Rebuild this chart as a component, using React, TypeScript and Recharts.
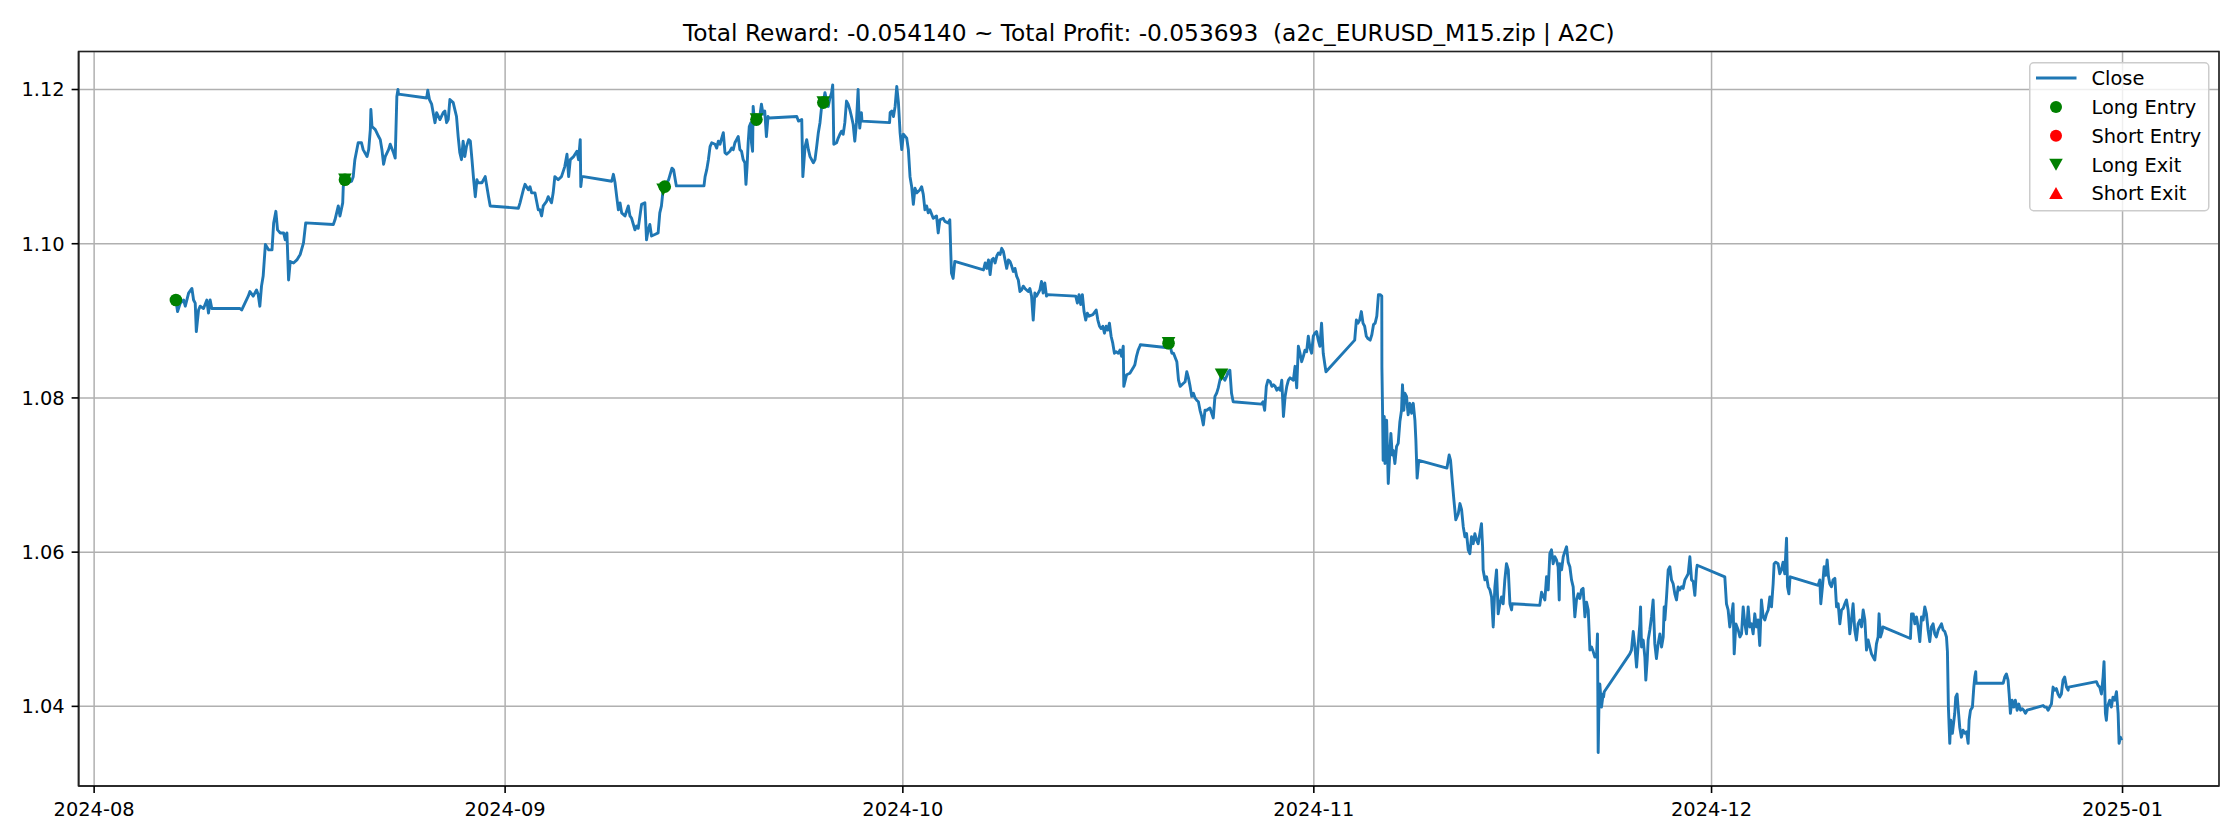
import React from 'react';
import {
  ComposedChart,
  Line,
  Scatter,
  XAxis,
  YAxis,
  CartesianGrid,
  ReferenceArea,
  Legend,
} from 'recharts';

// ---------- DATA ----------
const TITLE = 'Total Reward: -0.054140 ~ Total Profit: -0.053693  (a2c_EURUSD_M15.zip | A2C)';

const closeTimes: string[] = [
  '08-07 04:00','08-07 07:00','08-07 12:00','08-07 18:00','08-07 21:00','08-08 03:00','08-08 09:00','08-08 12:00','08-08 15:00','08-08 17:00',
  '08-08 21:00','08-09 00:00','08-09 06:00','08-09 12:00','08-09 15:00','08-09 18:00','08-09 21:00','08-12 00:00','08-12 03:00','08-12 09:00',
  '08-12 15:00','08-12 18:00','08-13 00:00','08-13 06:00','08-13 09:00','08-13 12:00','08-13 15:00','08-13 18:00','08-13 22:00','08-14 04:00',
  '08-14 10:00','08-14 13:00','08-14 17:00','08-14 20:00','08-15 01:00','08-15 07:00','08-15 10:00','08-15 13:00','08-15 16:00','08-15 19:00',
  '08-16 01:00','08-16 07:00','08-16 13:00','08-16 19:00','08-16 23:00','08-19 01:00','08-19 04:00','08-19 07:00','08-19 10:00','08-19 13:00',
  '08-19 18:00','08-19 19:00','08-19 22:00','08-20 04:00','08-20 10:00','08-20 13:00','08-20 16:00','08-20 22:00','08-21 04:00','08-21 07:00',
  '08-21 14:00','08-21 17:00','08-21 20:00','08-21 21:00','08-21 23:00','08-22 05:00','08-22 11:00','08-22 14:00','08-22 17:00','08-22 20:00',
  '08-22 23:00','08-23 05:00','08-23 08:00','08-23 14:00','08-23 17:00','08-23 20:00','08-23 22:00','08-23 23:00','08-26 02:00','08-26 04:00',
  '08-26 07:00','08-26 11:00','08-26 17:00','08-26 20:00','08-27 02:00','08-27 08:00','08-27 11:00','08-27 14:00','08-27 17:00','08-27 20:00',
  '08-27 23:00','08-28 02:00','08-28 05:00','08-28 08:00','08-28 11:00','08-28 14:00','08-28 17:00','08-28 20:00','08-28 23:00','08-29 02:00',
  '08-29 06:00','08-29 09:00','08-29 12:00','08-29 15:00','08-29 18:00','08-29 21:00','08-29 23:00','08-30 06:00','08-30 12:00','08-30 15:00',
  '08-30 18:00','08-30 21:00','09-02 00:00','09-02 03:00','09-02 09:00','09-02 12:00','09-02 18:00','09-02 21:00','09-03 00:00','09-03 06:00',
  '09-03 12:00','09-03 15:00','09-03 18:00','09-03 21:00','09-04 03:00','09-04 06:00','09-04 12:00','09-04 15:00','09-04 18:00','09-05 00:00',
  '09-05 06:00','09-05 12:00','09-05 16:00','09-05 19:00','09-05 22:00','09-06 04:00','09-06 10:00','09-06 13:00','09-06 16:00','09-06 17:00',
  '09-06 19:00','09-06 22:00','09-09 01:00','09-09 04:00','09-09 07:00','09-09 10:00','09-09 13:00','09-09 16:00','09-09 19:00','09-10 01:00',
  '09-10 07:00','09-10 10:00','09-10 13:00','09-10 19:00','09-10 22:00','09-11 01:00','09-11 07:00','09-11 13:00','09-11 16:00','09-11 19:00',
  '09-11 22:00','09-12 01:00','09-12 07:00','09-12 13:00','09-12 16:00','09-12 19:00','09-12 22:00','09-13 01:00','09-13 08:00','09-13 14:00',
  '09-13 17:00','09-13 20:00','09-13 22:00','09-16 00:00','09-16 02:00','09-16 05:00','09-16 08:00','09-16 11:00','09-16 14:00','09-16 20:00',
  '09-16 23:00','09-17 02:00','09-17 05:00','09-17 11:00','09-17 14:00','09-17 17:00','09-17 23:00','09-18 02:00','09-18 05:00','09-18 08:00',
  '09-18 11:00','09-18 14:00','09-18 17:00','09-18 20:00','09-18 23:00','09-19 02:00','09-19 04:00','09-19 06:00','09-19 08:00','09-19 10:00',
  '09-19 13:00','09-19 14:00','09-19 16:00','09-19 17:00','09-19 20:00','09-19 23:00','09-20 05:00','09-20 08:00','09-20 11:00','09-20 14:00',
  '09-20 17:00','09-20 20:00','09-20 22:00','09-23 00:00','09-23 03:00','09-23 09:00','09-23 11:00','09-23 15:00','09-23 18:00','09-23 21:00',
  '09-24 00:00','09-24 06:00','09-24 09:00','09-24 12:00','09-24 15:00','09-24 18:00','09-24 21:00','09-25 00:00','09-25 03:00','09-25 06:00',
  '09-25 09:00','09-25 12:00','09-25 15:00','09-25 17:00','09-25 18:00','09-25 19:00','09-26 00:00','09-26 03:00','09-26 06:00','09-26 09:00',
  '09-26 12:00','09-26 15:00','09-26 18:00','09-26 21:00','09-27 00:00','09-27 03:00','09-27 06:00','09-27 09:00','09-27 12:00','09-27 15:00',
  '09-27 17:00','09-27 18:00','09-27 21:00','09-27 22:00','09-30 00:00','09-30 01:00','09-30 04:00','09-30 07:00','09-30 10:00','09-30 13:00',
  '09-30 16:00','09-30 19:00','09-30 22:00','10-01 01:00','10-01 07:00','10-01 10:00','10-01 13:00','10-01 16:00','10-01 19:00','10-01 22:00',
  '10-02 01:00','10-02 07:00','10-02 10:00','10-02 13:00','10-02 16:00','10-02 19:00','10-02 22:00','10-03 01:00','10-03 07:00','10-03 13:00',
  '10-03 16:00','10-03 19:00','10-04 01:00','10-04 04:00','10-04 10:00','10-04 13:00','10-04 15:00','10-04 16:00','10-04 19:00','10-04 22:00',
  '10-07 02:00','10-07 05:00','10-07 08:00','10-07 11:00','10-07 14:00','10-07 17:00','10-07 20:00','10-07 23:00','10-08 02:00','10-08 05:00',
  '10-08 08:00','10-08 11:00','10-08 14:00','10-08 17:00','10-08 20:00','10-08 23:00','10-09 02:00','10-09 05:00','10-09 08:00','10-09 11:00',
  '10-09 14:00','10-09 17:00','10-09 20:00','10-09 23:00','10-10 02:00','10-10 05:00','10-10 08:00','10-10 11:00','10-10 14:00','10-10 17:00',
  '10-10 20:00','10-10 23:00','10-11 02:00','10-11 05:00','10-11 08:00','10-11 11:00','10-11 14:00','10-11 17:00','10-11 20:00','10-11 22:00',
  '10-14 01:00','10-14 04:00','10-14 07:00','10-14 10:00','10-14 13:00','10-14 16:00','10-14 19:00','10-14 22:00','10-15 01:00','10-15 08:00',
  '10-15 14:00','10-15 17:00','10-15 20:00','10-15 23:00','10-16 02:00','10-16 05:00','10-16 08:00','10-16 11:00','10-16 14:00','10-16 17:00',
  '10-16 20:00','10-16 23:00','10-17 02:00','10-17 06:00','10-17 09:00','10-17 12:00','10-17 15:00','10-17 16:00','10-17 21:00','10-18 03:00',
  '10-18 09:00','10-18 12:00','10-18 15:00','10-18 18:00','10-18 21:00','10-18 22:00','10-21 00:00','10-21 01:00','10-21 04:00','10-21 07:00',
  '10-21 10:00','10-21 16:00','10-21 19:00','10-21 22:00','10-22 04:00','10-22 07:00','10-22 10:00','10-22 13:00','10-22 16:00','10-22 19:00',
  '10-22 22:00','10-23 01:00','10-23 04:00','10-23 07:00','10-23 10:00','10-23 13:00','10-23 16:00','10-23 19:00','10-23 22:00','10-24 04:00',
  '10-24 10:00','10-24 13:00','10-24 16:00','10-24 19:00','10-24 22:00','10-25 01:00','10-25 04:00','10-25 07:00','10-25 10:00','10-25 13:00',
  '10-25 16:00','10-25 19:00','10-25 22:00','10-28 01:00','10-28 04:00','10-28 07:00','10-28 10:00','10-28 13:00','10-28 17:00','10-28 20:00',
  '10-28 23:00','10-29 02:00','10-29 05:00','10-29 08:00','10-29 11:00','10-29 14:00','10-29 17:00','10-29 20:00','10-29 23:00','10-30 02:00',
  '10-30 05:00','10-30 11:00','10-30 14:00','10-30 17:00','10-30 20:00','10-30 23:00','10-31 02:00','10-31 05:00','10-31 08:00','10-31 11:00',
  '10-31 14:00','10-31 17:00','10-31 20:00','10-31 23:00','11-01 02:00','11-01 05:00','11-01 08:00','11-01 11:00','11-01 14:00','11-01 17:00',
  '11-01 20:00','11-01 22:00','11-04 02:00','11-04 05:00','11-04 08:00','11-04 11:00','11-04 14:00','11-04 17:00','11-04 20:00','11-04 23:00',
  '11-05 02:00','11-05 06:00','11-05 09:00','11-05 12:00','11-05 15:00','11-05 18:00','11-05 21:00','11-06 00:00','11-06 03:00','11-06 03:15',
  '11-06 04:30','11-06 05:30','11-06 07:30','11-06 08:45','11-06 11:45','11-06 14:45','11-06 17:45','11-06 19:30','11-06 22:00','11-06 23:45',
  '11-07 02:45','11-07 05:45','11-07 08:45','11-07 11:45','11-07 14:45','11-07 16:30','11-07 19:00','11-07 20:45','11-07 23:45','11-08 02:45',
  '11-08 06:00','11-08 09:00','11-08 12:00','11-08 15:00','11-08 16:45','11-08 19:00','11-08 22:00','11-11 01:00','11-11 05:00','11-11 07:30',
  '11-11 11:00','11-11 13:30','11-11 17:00','11-11 21:30','11-12 00:30','11-12 03:30','11-12 06:30','11-12 09:30','11-12 12:30','11-12 15:30',
  '11-12 18:30','11-12 21:30','11-13 00:30','11-13 03:30','11-13 06:30','11-13 09:30','11-13 12:30','11-13 15:30','11-13 17:30','11-13 18:30',
  '11-13 21:45','11-14 00:45','11-14 03:45','11-14 06:45','11-14 09:45','11-14 12:45','11-14 15:45','11-14 18:45','11-14 21:45','11-15 00:45',
  '11-15 03:45','11-15 06:45','11-15 09:45','11-15 12:45','11-15 16:00','11-15 19:00','11-15 22:00','11-15 23:00','11-18 01:00','11-18 04:15',
  '11-18 10:15','11-18 13:15','11-18 16:15','11-18 19:15','11-18 22:15','11-19 01:15','11-19 04:15','11-19 07:15','11-19 10:15','11-19 12:15',
  '11-19 13:15','11-19 16:30','11-19 19:30','11-19 22:30','11-20 01:30','11-20 04:30','11-20 07:30','11-20 10:30','11-20 13:30','11-20 16:30',
  '11-20 19:30','11-20 22:30','11-21 01:30','11-21 04:30','11-21 07:30','11-21 10:45','11-21 13:45','11-21 16:45','11-21 19:45','11-21 22:45',
  '11-22 01:45','11-22 04:45','11-22 07:45','11-22 09:30','11-22 10:45','11-22 12:30','11-22 13:45','11-22 16:45','11-22 19:45','11-22 20:30',
  '11-22 21:45','11-24 20:00','11-24 23:00','11-25 02:15','11-25 05:15','11-25 08:15','11-25 11:15','11-25 14:15','11-25 15:30','11-25 17:15',
  '11-25 20:15','11-25 23:15','11-26 01:00','11-26 03:30','11-26 05:15','11-26 08:15','11-26 11:15','11-26 14:15','11-26 17:15','11-26 20:15',
  '11-26 23:15','11-27 02:30','11-27 05:30','11-27 08:30','11-27 10:15','11-27 11:30','11-27 14:30','11-27 17:30','11-27 20:30','11-27 23:30',
  '11-28 02:30','11-28 05:30','11-28 08:30','11-28 11:30','11-28 14:30','11-28 17:30','11-28 20:30','11-28 23:45','11-29 02:45','11-29 05:45',
  '11-29 08:45','11-29 11:45','11-29 14:45','11-29 17:45','11-29 20:45','11-29 22:00','12-02 00:00','12-02 03:00','12-02 06:00','12-02 09:00',
  '12-02 12:00','12-02 15:00','12-02 17:00','12-02 20:00','12-03 00:15','12-03 03:15','12-03 06:15','12-03 09:15','12-03 12:15','12-03 15:15',
  '12-03 18:15','12-03 21:15','12-04 00:15','12-04 03:15','12-04 06:15','12-04 09:15','12-04 12:15','12-04 15:15','12-04 18:15','12-04 21:30',
  '12-05 00:30','12-05 03:30','12-05 06:30','12-05 09:30','12-05 12:30','12-05 15:30','12-05 17:15','12-05 20:15','12-06 00:30','12-06 03:30',
  '12-06 06:30','12-06 09:30','12-06 12:30','12-06 15:45','12-06 17:30','12-06 20:00','12-06 21:45','12-06 22:30','12-09 01:00','12-09 04:00',
  '12-09 05:45','12-09 08:45','12-09 11:45','12-09 14:45','12-09 17:15','12-09 19:45','12-09 22:00','12-10 01:00','12-10 04:00','12-10 07:15',
  '12-10 10:15','12-10 13:15','12-10 16:15','12-10 19:15','12-10 22:15','12-11 01:15','12-11 04:15','12-11 07:15','12-11 10:15','12-11 13:15',
  '12-11 16:15','12-11 19:15','12-11 22:15','12-12 01:15','12-12 04:30','12-12 07:30','12-12 10:30','12-12 13:30','12-12 16:30','12-12 19:30',
  '12-12 22:30','12-13 01:30','12-13 04:30','12-13 07:30','12-13 10:30','12-13 13:30','12-13 15:15','12-13 17:45','12-13 20:45','12-13 22:00',
  '12-16 00:00','12-16 02:00','12-16 05:00','12-16 08:00','12-16 11:00','12-16 14:00','12-16 17:00','12-16 20:00','12-16 23:00','12-17 02:00',
  '12-17 05:00','12-17 08:00','12-17 11:00','12-17 14:00','12-17 17:00','12-17 20:00','12-17 23:00','12-18 02:15','12-18 05:15','12-18 08:15',
  '12-18 11:15','12-18 14:15','12-18 17:15','12-18 19:00','12-18 20:45','12-18 23:15','12-19 01:00','12-19 04:00','12-19 08:15','12-19 10:00',
  '12-19 12:30','12-19 14:15','12-19 17:15','12-19 20:15','12-19 23:15','12-20 02:30','12-20 05:30','12-20 08:30','12-20 10:15','12-20 12:45',
  '12-20 16:15','12-20 18:45','12-20 20:30','12-20 22:15','12-20 23:00','12-23 00:00','12-23 02:45','12-23 05:45','12-23 08:45','12-23 10:45',
  '12-23 13:00','12-23 16:00','12-23 19:00','12-23 22:00','12-24 01:15','12-24 04:15','12-24 07:15','12-24 10:15','12-24 13:15','12-24 16:15',
  '12-24 19:15','12-26 00:15','12-26 03:15','12-26 06:15','12-26 09:15','12-26 12:15','12-26 15:15','12-26 18:15','12-26 21:15','12-27 00:15',
  '12-27 03:15','12-27 06:15','12-27 09:15','12-27 12:15','12-27 15:15','12-27 18:30','12-27 21:30','12-27 22:30','12-30 00:45','12-30 03:45',
  '12-30 06:45','12-30 09:45','12-30 12:45','12-30 14:30','12-30 17:00','12-30 18:45','12-30 20:30','12-31 00:45','12-31 03:45','12-31 06:45',
  '12-31 09:45','12-31 13:00','12-31 16:00','12-31 17:45','12-31 20:00','12-31 22:30',
];

const closeValues: number[] = [
  1.0927,1.0912,1.0923,1.0927,1.0919,1.0936,1.0942,1.0927,1.0923,1.0886,
  1.0914,1.0919,1.0916,1.0927,1.0910,1.0927,1.0916,1.0916,1.0914,1.0923,
  1.0932,1.0938,1.0932,1.0940,1.0934,1.0919,1.0945,1.0958,1.0999,1.0992,
  1.0992,1.1027,1.1042,1.1018,1.1014,1.1014,1.1005,1.1014,1.0953,1.0977,
  1.0975,1.0979,1.0986,1.1001,1.1027,1.1025,1.1031,1.1040,1.1049,1.1036,
  1.1053,1.1074,1.1083,1.1079,1.1081,1.1087,1.1109,1.1131,1.1131,1.1122,
  1.1113,1.1122,1.1148,1.1174,1.1152,1.1148,1.1139,1.1135,1.1122,1.1103,
  1.1113,1.1122,1.1129,1.1118,1.1111,1.1191,1.1200,1.1194,1.1189,1.1199,
  1.1187,1.1181,1.1157,1.1170,1.1161,1.1170,1.1172,1.1157,1.1161,1.1187,
  1.1185,1.1183,1.1174,1.1165,1.1139,1.1118,1.1109,1.1133,1.1113,1.1126,
  1.1135,1.1133,1.1109,1.1083,1.1061,1.1083,1.1079,1.1079,1.1087,1.1074,
  1.1061,1.1049,1.1046,1.1053,1.1070,1.1077,1.1070,1.1074,1.1066,1.1066,
  1.1044,1.1044,1.1036,1.1049,1.1055,1.1061,1.1053,1.1066,1.1087,1.1083,
  1.1087,1.1100,1.1116,1.1087,1.1109,1.1113,1.1120,1.1109,1.1135,1.1074,
  1.1087,1.1087,1.1081,1.1090,1.1079,1.1061,1.1044,1.1053,1.1040,1.1036,
  1.1049,1.1036,1.1033,1.1018,1.1023,1.1020,1.1051,1.1053,1.1005,1.1018,
  1.1025,1.1010,1.1012,1.1014,1.1040,1.1049,1.1070,1.1074,1.1083,1.1098,
  1.1096,1.1083,1.1075,1.1075,1.1087,1.1096,1.1109,1.1126,1.1131,1.1129,
  1.1124,1.1133,1.1129,1.1144,1.1118,1.1116,1.1120,1.1124,1.1122,1.1131,
  1.1135,1.1139,1.1122,1.1120,1.1109,1.1105,1.1077,1.1100,1.1131,1.1152,
  1.1157,1.1131,1.1120,1.1178,1.1155,1.1161,1.1165,1.1181,1.1168,1.1172,
  1.1139,1.1165,1.1163,1.1165,1.1159,1.1161,1.1087,1.1126,1.1135,1.1122,
  1.1113,1.1105,1.1109,1.1126,1.1144,1.1157,1.1178,1.1183,1.1196,1.1185,
  1.1178,1.1189,1.1196,1.1206,1.1174,1.1129,1.1131,1.1137,1.1142,1.1146,
  1.1142,1.1157,1.1185,1.1181,1.1174,1.1165,1.1155,1.1133,1.1157,1.1200,
  1.1161,1.1150,1.1170,1.1159,1.1157,1.1170,1.1172,1.1165,1.1178,1.1204,
  1.1183,1.1144,1.1122,1.1142,1.1137,1.1122,1.1087,1.1074,1.1051,1.1072,
  1.1066,1.1070,1.1074,1.1064,1.1044,1.1049,1.1040,1.1044,1.1033,1.1036,
  1.1014,1.1031,1.1033,1.1029,1.1027,1.1031,1.0984,1.0962,1.0955,1.0977,
  1.0966,1.0975,1.0968,1.0979,1.0960,1.0979,1.0981,1.0975,1.0984,1.0988,
  1.0986,1.0994,1.0990,1.0979,1.0968,1.0979,1.0977,1.0971,1.0964,1.0968,
  1.0958,1.0953,1.0938,1.0940,1.0945,1.0942,1.0940,1.0938,1.0942,1.0932,
  1.0901,1.0936,1.0932,1.0936,1.0940,1.0951,1.0936,1.0949,1.0932,1.0934,
  1.0932,1.0923,1.0934,1.0921,1.0934,1.0912,1.0901,1.0910,1.0906,1.0908,
  1.0914,1.0901,1.0893,1.0890,1.0893,1.0884,1.0893,1.0888,1.0897,1.0880,
  1.0871,1.0858,1.0860,1.0858,1.0862,1.0854,1.0867,1.0815,1.0830,1.0832,
  1.0839,1.0843,1.0854,1.0862,1.0867,1.0869,1.0865,1.0871,1.0867,1.0858,
  1.0858,1.0847,1.0823,1.0815,1.0819,1.0821,1.0834,1.0826,1.0815,1.0802,
  1.0806,1.0800,1.0797,1.0795,1.0784,1.0776,1.0765,1.0784,1.0784,1.0787,
  1.0774,1.0802,1.0806,1.0813,1.0823,1.0830,1.0826,1.0823,1.0828,1.0834,
  1.0836,1.0806,1.0795,1.0792,1.0795,1.0784,1.0815,1.0823,1.0821,1.0815,
  1.0817,1.0815,1.0810,1.0813,1.0810,1.0823,1.0776,1.0802,1.0815,1.0823,
  1.0826,1.0823,1.0841,1.0813,1.0867,1.0858,1.0847,1.0854,1.0862,1.0860,
  1.0880,1.0865,1.0858,1.0880,1.0884,1.0886,1.0875,1.0867,1.0897,1.0858,
  1.0843,1.0834,1.0875,1.0901,1.0897,1.0901,1.0912,1.0897,1.0893,1.0880,
  1.0877,1.0875,1.0882,1.0895,1.0897,1.0906,1.0934,1.0934,1.0932,1.0839,
  1.0780,1.0719,1.0776,1.0715,1.0771,1.0689,1.0732,1.0754,1.0726,1.0732,
  1.0715,1.0737,1.0741,1.0769,1.0784,1.0817,1.0784,1.0806,1.0802,1.0778,
  1.0793,1.0780,1.0793,1.0771,1.0745,1.0696,1.0719,1.0709,1.0726,1.0719,
  1.0689,1.0668,1.0642,1.0650,1.0663,1.0655,1.0633,1.0620,1.0624,1.0603,
  1.0598,1.0620,1.0611,1.0624,1.0616,1.0611,1.0624,1.0637,1.0607,1.0577,
  1.0564,1.0568,1.0555,1.0551,1.0542,1.0503,1.0555,1.0577,1.0520,1.0533,
  1.0542,1.0533,1.0564,1.0585,1.0577,1.0533,1.0525,1.0533,1.0531,1.0548,
  1.0538,1.0568,1.0551,1.0598,1.0603,1.0585,1.0594,1.0590,1.0581,1.0538,
  1.0585,1.0577,1.0594,1.0601,1.0607,1.0587,1.0581,1.0564,1.0555,1.0516,
  1.0538,1.0546,1.0540,1.0551,1.0553,1.0516,1.0535,1.0525,1.0473,1.0477,
  1.0471,1.0464,1.0464,1.0494,1.0340,1.0416,1.0429,1.0399,1.0416,1.0412,
  1.0419,1.0468,1.0473,1.0497,1.0477,1.0451,1.0481,1.0507,1.0529,1.0477,
  1.0486,1.0464,1.0434,1.0460,1.0486,1.0499,1.0516,1.0538,1.0481,1.0462,
  1.0481,1.0494,1.0477,1.0490,1.0529,1.0512,1.0542,1.0577,1.0581,1.0564,
  1.0559,1.0546,1.0538,1.0555,1.0551,1.0555,1.0553,1.0564,1.0568,1.0572,
  1.0594,1.0564,1.0562,1.0544,1.0577,1.0583,1.0568,1.0533,1.0525,1.0503,
  1.0516,1.0533,1.0468,1.0507,1.0499,1.0490,1.0494,1.0529,1.0507,1.0494,
  1.0529,1.0503,1.0507,1.0494,1.0520,1.0503,1.0512,1.0479,1.0538,1.0516,
  1.0512,1.0520,1.0525,1.0542,1.0529,1.0559,1.0585,1.0587,1.0585,1.0572,
  1.0577,1.0587,1.0572,1.0618,1.0555,1.0546,1.0564,1.0568,1.0557,1.0564,
  1.0533,1.0555,1.0581,1.0570,1.0590,1.0568,1.0559,1.0555,1.0564,1.0566,
  1.0529,1.0533,1.0507,1.0525,1.0527,1.0533,1.0538,1.0525,1.0494,1.0512,
  1.0533,1.0499,1.0486,1.0507,1.0512,1.0503,1.0525,1.0512,1.0473,1.0486,
  1.0477,1.0468,1.0464,1.0460,1.0481,1.0490,1.0520,1.0490,1.0497,1.0503,
  1.0488,1.0520,1.0520,1.0507,1.0516,1.0503,1.0484,1.0516,1.0512,1.0529,
  1.0520,1.0499,1.0484,1.0503,1.0507,1.0494,1.0490,1.0499,1.0503,1.0507,
  1.0499,1.0497,1.0490,1.0471,1.0399,1.0352,1.0382,1.0365,1.0391,1.0412,
  1.0416,1.0399,1.0373,1.0360,1.0369,1.0365,1.0367,1.0352,1.0382,1.0395,
  1.0399,1.0425,1.0438,1.0445,1.0430,1.0430,1.0438,1.0442,1.0434,1.0416,
  1.0391,1.0408,1.0399,1.0408,1.0395,1.0403,1.0395,1.0397,1.0395,1.0391,
  1.0395,1.0401,1.0399,1.0399,1.0395,1.0399,1.0403,1.0425,1.0421,1.0423,
  1.0416,1.0412,1.0416,1.0434,1.0438,1.0425,1.0421,1.0425,1.0432,1.0427,
  1.0425,1.0416,1.0438,1.0458,1.0391,1.0382,1.0399,1.0408,1.0399,1.0412,
  1.0408,1.0419,1.0391,1.0352,1.0360,1.0356,
];

const longEntryTimes: string[] = ['08-07 04:00', '08-19 22:00', '09-13 01:00', '09-19 23:00', '09-25 00:00', '10-21 01:00'];
const longEntryValues: number[] = [1.0927, 1.1083, 1.1074, 1.1161, 1.1183, 1.0871];
const longExitTimes: string[] = ['08-19 22:00', '09-12 22:00', '09-19 23:00', '09-25 00:00', '10-21 01:00', '10-25 01:00'];
const longExitValues: number[] = [1.1083, 1.1070, 1.1161, 1.1183, 1.0871, 1.0830];
const shortEntryTimes: string[] = [];
const shortEntryValues: number[] = [];
const shortExitTimes: string[] = [];
const shortExitValues: number[] = [];

const xTickLabels: string[] = ['2024-08', '2024-09', '2024-10', '2024-11', '2024-12', '2025-01'];
const yTickValues: number[] = [1.04, 1.06, 1.08, 1.1, 1.12];

const legendItems = [
  { label: 'Close', kind: 'line', color: '#1f77b4' },
  { label: 'Long Entry', kind: 'circle', color: '#008000' },
  { label: 'Short Entry', kind: 'circle', color: '#ff0000' },
  { label: 'Long Exit', kind: 'down', color: '#008000' },
  { label: 'Short Exit', kind: 'up', color: '#ff0000' },
];

// ---------- helpers ----------
function parseTime(s: string): number {
  const [md, hm] = s.split(' ');
  const [m, d] = md.split('-').map(Number);
  const [h, mi] = hm.split(':').map(Number);
  const y = m >= 7 ? 2024 : 2025;
  return Date.UTC(y, m - 1, d, h, mi);
}

const closeData = closeTimes.map((t, i) => ({ t: parseTime(t), v: closeValues[i] }));
const toPts = (ts: string[], vs: number[]) => ts.map((t, i) => ({ t: parseTime(t), v: vs[i] }));
const longEntryData = toPts(longEntryTimes, longEntryValues);
const longExitData = toPts(longExitTimes, longExitValues);
const shortEntryData = toPts(shortEntryTimes, shortEntryValues);
const shortExitData = toPts(shortExitTimes, shortExitValues);

const xTicks = xTickLabels.map((l) => Date.UTC(Number(l.slice(0, 4)), Number(l.slice(5, 7)) - 1, 1));

// matplotlib-like 5% margins
const tMin = Math.min(...closeData.map((d) => d.t));
const tMax = Math.max(...closeData.map((d) => d.t));
const vMin = Math.min(...closeValues);
const vMax = Math.max(...closeValues);
const xDomain: [number, number] = [tMin - 0.05 * (tMax - tMin), tMax + 0.05 * (tMax - tMin)];
const yDomain: [number, number] = [vMin - 0.05 * (vMax - vMin), vMax + 0.05 * (vMax - vMin)];

const fmtMonth = (ms: number) => {
  const d = new Date(ms);
  return `${d.getUTCFullYear()}-${String(d.getUTCMonth() + 1).padStart(2, '0')}`;
};

const FONT = 'DejaVu Sans, sans-serif';
const W = 2240;
const H = 840;
const PLOT_LEFT = 78.6;
const PLOT_RIGHT = 2219;
const PLOT_TOP = 51.5;
const PLOT_BOTTOM = 786;

const CircleShape = (color: string) => (props: any) => {
  const { cx, cy } = props;
  if (cx == null || cy == null) return null;
  return <circle cx={cx} cy={cy} r={6.3} fill={color} />;
};
const TriDownShape = (color: string) => (props: any) => {
  const { cx, cy } = props;
  if (cx == null || cy == null) return null;
  return <path d={`M${cx - 6.8},${cy - 6.3}L${cx + 6.8},${cy - 6.3}L${cx},${cy + 6.3}Z`} fill={color} />;
};
const TriUpShape = (color: string) => (props: any) => {
  const { cx, cy } = props;
  if (cx == null || cy == null) return null;
  return <path d={`M${cx - 6.8},${cy + 6.3}L${cx + 6.8},${cy + 6.3}L${cx},${cy - 6.3}Z`} fill={color} />;
};

const LegendBox = () => {
  const rowY = [16, 45, 73.7, 102.7, 131];
  return (
    <svg width={181} height={150} style={{ display: 'block', fontFamily: FONT }}>
      <rect x={0.75} y={0.75} width={179} height={148} rx={4} ry={4} fill="#ffffff" fillOpacity={0.8} stroke="#cccccc" strokeWidth={1.5} />
      {legendItems.map((it, i) => {
        const cy = rowY[i];
        const cx = 27;
        let icon: any = null;
        if (it.kind === 'line') icon = <line x1={7} x2={47.5} y1={cy} y2={cy} stroke={it.color} strokeWidth={2.9} />;
        else if (it.kind === 'circle') icon = <circle cx={cx} cy={cy} r={6} fill={it.color} />;
        else if (it.kind === 'down') icon = <path d={`M${cx - 6.8},${cy - 6}L${cx + 6.8},${cy - 6}L${cx},${cy + 6}Z`} fill={it.color} />;
        else icon = <path d={`M${cx - 6.8},${cy + 6}L${cx + 6.8},${cy + 6}L${cx},${cy - 6}Z`} fill={it.color} />;
        return (
          <g key={it.label}>
            {icon}
            <text x={62.5} y={cy + 7} fontSize={19.4} fill="#000" fontFamily={FONT}>
              {it.label}
            </text>
          </g>
        );
      })}
    </svg>
  );
};

export default function App() {
  return (
    <div style={{ position: 'absolute', left: 0, top: 0, width: W, height: H, background: '#fff', fontFamily: FONT }}>
      <ComposedChart
        width={W}
        height={H}
        data={closeData}
        margin={{ top: PLOT_TOP, right: W - PLOT_RIGHT, bottom: 0, left: 0 }}
      >
        <CartesianGrid xAxisId="x" yAxisId="y" stroke="#b0b0b0" strokeWidth={1.5} />
        <XAxis
          xAxisId="x"
          dataKey="t"
          type="number"
          scale="linear"
          domain={xDomain}
          allowDataOverflow
          ticks={xTicks}
          interval={0}
          tickFormatter={fmtMonth}
          height={H - PLOT_BOTTOM}
          tickSize={7}
          tickMargin={9}
          axisLine={{ stroke: '#222', strokeWidth: 1.6 }}
          tickLine={{ stroke: '#000', strokeWidth: 1.6 }}
          tick={{ fill: '#000', fontSize: 19.4, fontFamily: FONT }}
        />
        <YAxis
          yAxisId="y"
          dataKey="v"
          type="number"
          domain={yDomain}
          allowDataOverflow
          ticks={yTickValues}
          interval={0}
          tickFormatter={(v: number) => v.toFixed(2)}
          width={PLOT_LEFT}
          tickSize={7}
          tickMargin={7}
          axisLine={{ stroke: '#222', strokeWidth: 1.6 }}
          tickLine={{ stroke: '#000', strokeWidth: 1.6 }}
          tick={{ fill: '#000', fontSize: 19.4, fontFamily: FONT }}
        />
        {longEntryData.length > 0 && (
          <Scatter name="Long Entry" xAxisId="x" yAxisId="y" data={longEntryData} dataKey="v" fill="#008000" shape={CircleShape('#008000')} isAnimationActive={false} />
        )}
        {shortEntryData.length > 0 && (
          <Scatter name="Short Entry" xAxisId="x" yAxisId="y" data={shortEntryData} dataKey="v" fill="#ff0000" shape={CircleShape('#ff0000')} isAnimationActive={false} />
        )}
        {longExitData.length > 0 && (
          <Scatter name="Long Exit" xAxisId="x" yAxisId="y" data={longExitData} dataKey="v" fill="#008000" shape={TriDownShape('#008000')} isAnimationActive={false} />
        )}
        {shortExitData.length > 0 && (
          <Scatter name="Short Exit" xAxisId="x" yAxisId="y" data={shortExitData} dataKey="v" fill="#ff0000" shape={TriUpShape('#ff0000')} isAnimationActive={false} />
        )}
        <Line
          name="Close"
          xAxisId="x"
          yAxisId="y"
          type="linear"
          dataKey="v"
          stroke="#1f77b4"
          strokeWidth={2.9}
          strokeLinejoin="round"
          dot={false}
          activeDot={false}
          isAnimationActive={false}
        />
        <ReferenceArea
          xAxisId="x"
          yAxisId="y"
          x1={xDomain[0]}
          x2={xDomain[1]}
          y1={yDomain[0]}
          y2={yDomain[1]}
          fill="none"
          fillOpacity={0}
          stroke="#222"
          strokeWidth={1.6}
          ifOverflow="visible"
        />
        <Legend
          layout="horizontal"
          verticalAlign="middle"
          align="center"
          wrapperStyle={{ left: 2029, top: 62, width: 181, height: 150 }}
          content={() => <LegendBox />}
        />
      </ComposedChart>
      <svg width={W} height={60} style={{ position: 'absolute', left: 0, top: 0, pointerEvents: 'none' }}>
        <text
          x={(PLOT_LEFT + PLOT_RIGHT) / 2}
          y={40.7}
          textAnchor="middle"
          fontSize={23.3}
          fill="#000"
          fontFamily={FONT}
          style={{ whiteSpace: 'pre' }}
        >
          {TITLE}
        </text>
      </svg>
    </div>
  );
}
